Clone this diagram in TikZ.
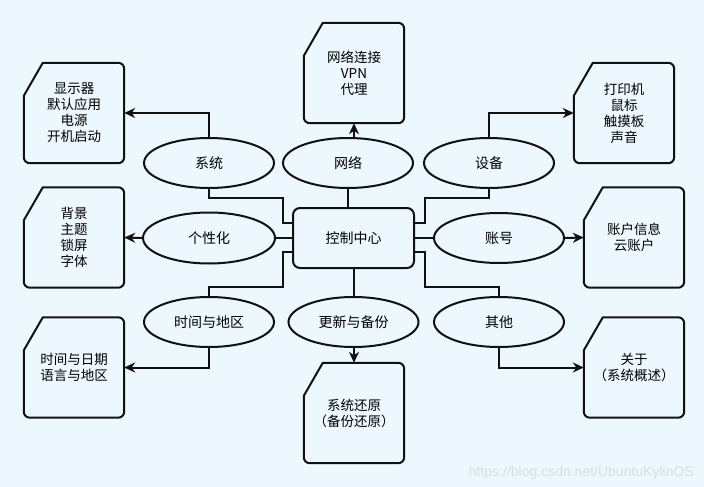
\documentclass[tikz,border=0pt]{standalone}
\usepackage{fontspec}
\setmainfont{Noto Sans CJK SC}
\newfontfamily\wmfont{Liberation Sans}
\usetikzlibrary{arrows.meta,calc,shapes.geometric}
\definecolor{bgc}{RGB}{236,247,254}
\definecolor{linec}{RGB}{17,17,17}
\definecolor{wmc}{RGB}{212,222,230}
\tikzset{
  every picture/.style={x=1pt,y=-1pt},
  conn/.style={draw=linec,line width=2pt},
  arr/.style={conn,-{Stealth[length=11pt,width=10pt,inset=3.5pt]}},
  topic/.style={ellipse,draw=linec,line width=2pt,minimum width=130pt,minimum height=50pt,inner sep=0pt,font=\fontsize{14}{16}\selectfont},
  hub/.style={rectangle,rounded corners=7pt,draw=linec,line width=2pt,minimum width=121pt,minimum height=60pt,inner sep=0pt,font=\fontsize{14}{16}\selectfont},
  cardtext/.style={rectangle,minimum width=100pt,minimum height=100pt,inner sep=0pt,align=center,font=\fontsize{13.5}{16}\selectfont},
  cardline/.style={draw=linec,line width=2pt,line join=round},
}
\newcommand{\mycard}[4]{%
  \node[cardtext] (#1) at (#2,#3) {#4};
  \draw[cardline] ([yshift=-33pt]#1.north west) -- ([xshift=19pt]#1.north west)
    [rounded corners=6pt] -- (#1.north east) -- (#1.south east) -- (#1.south west)
    [sharp corners] -- ([yshift=-33pt]#1.north west) -- cycle;
}
\begin{document}
\begin{tikzpicture}
\fill[bgc] (0,0) rectangle (704,487);
\useasboundingbox (0,0) rectangle (704,487);

% cards
\mycard{dispbox}{74}{113}{显示器\\默认应用\\电源\\开机启动}
\mycard{bgbox}{74}{237.5}{背景\\主题\\锁屏\\字体}
\mycard{timebox}{74}{367.5}{时间与日期\\语言与地区}
\mycard{netbox}{354}{73}{网络连接\\VPN\\代理}
\mycard{printbox}{624}{113}{打印机\\鼠标\\触摸板\\声音}
\mycard{acctbox}{634}{237.5}{账户信息\\云账户}
\mycard{restbox}{354}{413}{系统还原\\（备份还原）}
\mycard{aboutbox}{634}{367.5}{关于\\（系统概述）}

% hub
\node[hub] (ctrl) at (353.5,238) {控制中心};

% topics
\node[topic] (sys) at (209,163) {系统};
\node[topic] (net) at (348,163) {网络};
\node[topic] (dev) at (489,163) {设备};
\node[topic,minimum width=132pt,minimum height=51pt] (pers) at (209,238) {个性化};
\node[topic] (acct) at (499,238) {账号};
\node[topic] (time) at (209,322) {时间与地区};
\node[topic] (upd) at (353.5,322) {更新与备份};
\node[topic] (other) at (499,322) {其他};

% connectors
\draw[arr] (sys.north) |- (dispbox.east);
\draw[conn] ([yshift=15pt]ctrl.west) -- ++(-9,0) -- ++(0,-25) -| (sys.south);
\draw[arr] (net.north -| netbox.south) -- (netbox.south);
\draw[conn] (net.south) -- (ctrl.north -| net.south);
\draw[arr] (dev.north) |- (printbox.west);
\draw[conn] ([yshift=15pt]ctrl.east) -- ++(10,0) -- ++(0,-25) -| (dev.south);
\draw[arr] (pers.west) -- (bgbox.east);
\draw[conn] (ctrl.west) -- (pers.east);
\draw[conn] (ctrl.east) -- (acct.west);
\draw[arr] (acct.east) -- (acctbox.west);
\draw[conn] ([yshift=-14pt]ctrl.west) -- ++(-9,0) -- ++(0,35) -| (time.north);
\draw[arr] (time.south) |- (timebox.east);
\draw[conn] (ctrl.south) -- (upd.north);
\draw[arr] (upd.south -| restbox.north) -- (restbox.north);
\draw[conn] ([yshift=-14pt]ctrl.east) -- ++(10,0) -- ++(0,35) -| (other.north);
\draw[arr] (other.south) |- (aboutbox.west);

% watermark
\node[anchor=base east,text=wmc,font=\wmfont\fontsize{14}{16}\selectfont,inner sep=0pt] (wm) at (694,476) {https://blog.csdn.net/UbuntuKylinOS};
\end{tikzpicture}
\end{document}
